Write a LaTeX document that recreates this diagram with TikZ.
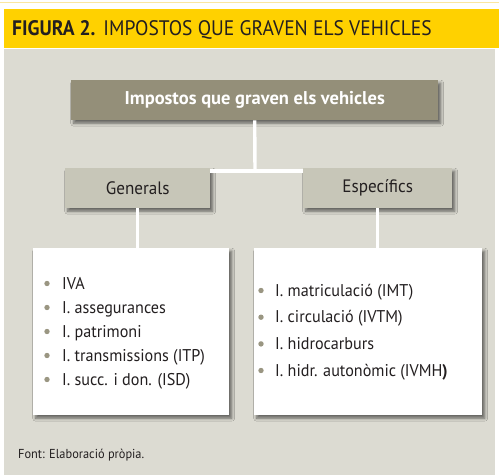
\documentclass[tikz,border=0pt]{standalone}
\usepackage{fontspec}
\setmainfont[FakeStretch=0.95]{PT Sans}
\newfontfamily\titlefont[FakeStretch=0.93]{PT Sans}
\newfontfamily\plainfont{PT Sans}
\usetikzlibrary{shadows.blur,calc}
\definecolor{yel}{HTML}{FFD100}
\definecolor{yellight}{HTML}{FBE7A0}
\definecolor{bg}{HTML}{DCDBD2}
\definecolor{topc}{HTML}{948F79}
\definecolor{midc}{HTML}{C7C6B8}
\definecolor{bulc}{HTML}{9A9682}
\definecolor{txt}{HTML}{231F20}
\begin{document}
\begin{tikzpicture}[x=1pt,y=-1pt,
  boxshadow/.style={blur shadow={shadow xshift=2.5pt,shadow yshift=-3pt,shadow blur radius=3pt,shadow opacity=55}},
  topbox/.style={fill=topc,text=white,font=\plainfont\fontsize{18.5}{18.5}\selectfont\bfseries,anchor=north west,inner sep=0pt,boxshadow},
  midbox/.style={fill=midc,text=txt,font=\fontsize{18}{18}\selectfont,anchor=north west,inner sep=0pt,boxshadow},
  listbox/.style={fill=white,anchor=north west,inner sep=0pt,boxshadow},
  item/.style={text=txt,anchor=base west,inner sep=0pt,font=\fontsize{17}{17}\selectfont},
  bullet/.style={fill=bulc},
  conn/.style={draw=white,line width=3.4pt}]
\useasboundingbox (0,0) rectangle (499,475);
\fill[white] (0,0) rectangle (499,475);
\fill[yellight] (0,1.5) rectangle (499,3);
\fill[yel] (4,8.5) rectangle (499,47.5);
\fill[bg] (4,49) rectangle (495,475);
\node[anchor=base west,inner sep=0pt,text=txt] (title) at (12,35)
  {\titlefont\fontsize{21}{21}\selectfont\textbf{FIGURA 2.}\hspace{8pt}IMPOSTOS QUE GRAVEN ELS VEHICLES};
\node[topbox,minimum width=367pt,minimum height=40pt] (top) at (71,80) {Impostos que graven els vehicles};
\node[midbox,minimum width=145pt,minimum height=40pt] (gen) at (65,168) {Generals};
\node[midbox,minimum width=149pt,minimum height=40pt] (esp) at (303,168) {Específics};
\node[listbox,minimum width=196pt,minimum height=167pt] (lbox) at (33,248) {};
\node[listbox,minimum width=228pt,minimum height=167pt] (rbox) at (254,248) {};
\node[item] (l1) at (62,289) {IVA};
\node[item] (l2) at (62,313) {I. assegurances};
\node[item] (l3) at (62,337) {I. patrimoni};
\node[item] (l4) at (62,361) {I. transmissions (ITP)};
\node[item] (l5) at (62,385) {I. succ. i don. (ISD)};
\node[item] (r1) at (275,296) {I. matriculació (IMT)};
\node[item] (r2) at (275,322.7) {I. circulació (IVTM)};
\node[item] (r3) at (275,349.4) {I. hidrocarburs};
\node[item] (r4) at (275,376) {I. hidr. autonòmic (IVMH\textbf{)}};
\foreach \n in {l1,l2,l3,l4,l5}{\fill[bullet] ($(\n.base west)+(-15,-5.5)$) circle (2.7);}
\foreach \n in {r1,r2,r3,r4}{\fill[bullet] ($(\n.base west)+(-14,-5.5)$) circle (2.7);}
\coordinate (j) at (255,171);
\draw[conn] (top.south) -- (j);
\draw[conn] (j -| gen.east) -- (j -| esp.west);
\draw[conn] (gen.south) -- (gen.south |- lbox.north);
\draw[conn] (esp.south) -- (esp.south |- rbox.north);
\node[anchor=base west,inner sep=0pt,text=txt,font=\fontsize{13}{13}\selectfont] (src) at (18,458) {Font: Elaboració pròpia.};
\end{tikzpicture}
\end{document}
